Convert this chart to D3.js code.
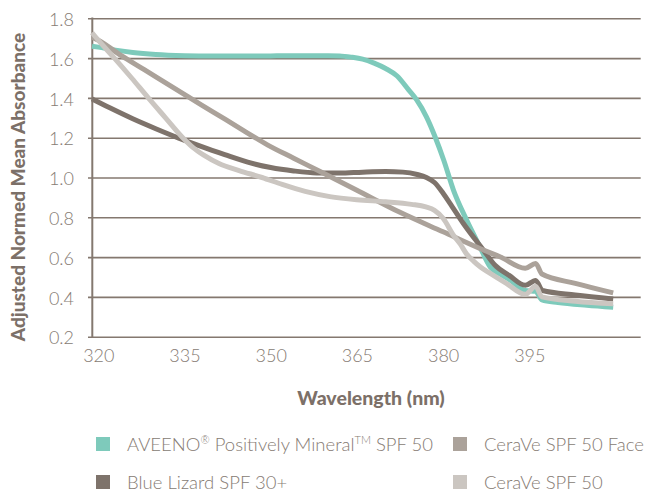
<!DOCTYPE html>
<html>
<head>
<meta charset="utf-8">
<script src="https://cdn.jsdelivr.net/npm/d3@7"></script>
<style>
  html, body { margin: 0; padding: 0; background: #ffffff; }
  svg { display: block; }
</style>
</head>
<body>
<svg id="chart" width="652" height="496"></svg>
<script>
// ---------- data ----------
const xTicks = [320, 335, 350, 365, 380, 395];
const yTicks = [0.2, 0.4, 0.6, 0.8, 1.0, 1.2, 1.4, 1.6, 1.8];

const seriesNames = [
  "AVEENO® Positively Mineral™ SPF 50",
  "Blue Lizard SPF 30+",
  "CeraVe SPF 50 Face",
  "CeraVe SPF 50"
];
const seriesColors = ["#7ecabb", "#7e736b", "#aba29a", "#cbc6c1"];

const aveenoWl = [318.9, 320, 323, 326, 330, 335, 340, 345, 350, 355, 360, 362, 364, 366, 368, 370, 372, 374, 375.4, 377.1, 378.6, 380.1, 381.8, 384.1, 386.4, 388.2, 389.9, 391.6, 394.3, 396.1, 397.2, 400, 405, 409.6];
const aveenoVal = [1.66, 1.655, 1.64, 1.628, 1.618, 1.612, 1.61, 1.61, 1.611, 1.612, 1.612, 1.611, 1.605, 1.595, 1.575, 1.548, 1.51, 1.44, 1.39, 1.305, 1.205, 1.088, 0.937, 0.786, 0.652, 0.55, 0.515, 0.486, 0.432, 0.428, 0.385, 0.372, 0.358, 0.348];

const lizardWl = [318.9, 322, 326, 330, 334, 338, 342, 346, 350, 354, 358, 362, 366, 370, 373, 375.5, 377.1, 378.5, 380, 381.2, 383.5, 387, 389, 391.5, 394.3, 396.1, 397.3, 403, 409.6];
const lizardVal = [1.395, 1.35, 1.295, 1.245, 1.198, 1.155, 1.115, 1.077, 1.05, 1.033, 1.023, 1.022, 1.027, 1.03, 1.027, 1.015, 1.0, 0.975, 0.921, 0.87, 0.77, 0.636, 0.56, 0.508, 0.458, 0.483, 0.432, 0.41, 0.39];

const faceWl = [318.9, 320, 324, 328, 332, 335.6, 340, 345, 349.5, 354, 358.6, 365, 372.5, 380, 387, 389.9, 394.3, 396.1, 397.2, 403, 409.6];
const faceVal = [1.705, 1.69, 1.612, 1.542, 1.47, 1.406, 1.329, 1.241, 1.163, 1.097, 1.03, 0.936, 0.825, 0.727, 0.636, 0.602, 0.544, 0.568, 0.515, 0.468, 0.42];

const ceraveWl = [318.9, 320, 322.8, 325.8, 328.7, 331.7, 334.7, 336.5, 338.5, 341, 344.5, 348.5, 352, 356, 360.3, 365, 370, 374.5, 377, 378.5, 380, 381.8, 383, 384.1, 385.3, 386.5, 388.2, 391, 394.3, 396.1, 397.2, 403, 409.6];
const ceraveVal = [1.728, 1.69, 1.6, 1.5, 1.4, 1.3, 1.2, 1.15, 1.11, 1.07, 1.035, 1.0, 0.965, 0.93, 0.904, 0.888, 0.878, 0.865, 0.852, 0.835, 0.795, 0.71, 0.665, 0.615, 0.58, 0.55, 0.518, 0.468, 0.413, 0.453, 0.40, 0.378, 0.365];

// ---------- layout ----------
const svg = d3.select("#chart");
const axisX = 92.3, rightX = 640.7, topY = 18.3, botY = 336.7;
const inkColor = "#84786f";
const textColor = "#867b73";
const fontFam = "Lato, 'Open Sans', sans-serif";

const x = d3.scaleLinear().domain([320, 395]).range([98.3, 529.3]);
const y = d3.scaleLinear().domain([0.2, 1.8]).range([botY, topY]);

// gridlines + y labels
const yAxis = d3.axisLeft(y).tickValues(yTicks)
  .tickSize(-(rightX - 88)).tickPadding(14)
  .tickFormat(d3.format(".1f"));
const gy = svg.append("g").attr("transform", "translate(88,0)").call(yAxis);
gy.select(".domain").remove();
gy.selectAll(".tick line").attr("stroke", inkColor).attr("stroke-width", 1.6);
gy.selectAll(".tick text")
  .attr("fill", textColor).attr("font-family", fontFam)
  .attr("font-weight", 300).attr("font-size", 18).attr("dy", "0.4em");

// vertical axis line
svg.append("line")
  .attr("x1", axisX).attr("x2", axisX).attr("y1", topY - 0.8).attr("y2", botY + 0.8)
  .attr("stroke", inkColor).attr("stroke-width", 2);

// x labels
const xAxis = d3.axisBottom(x).tickValues(xTicks).tickSize(0).tickPadding(13);
const gx = svg.append("g").attr("transform", `translate(0,${botY})`).call(xAxis);
gx.select(".domain").remove();
gx.selectAll(".tick text")
  .attr("fill", textColor).attr("font-family", fontFam)
  .attr("font-weight", 300).attr("font-size", 18);

// lines
const seriesData = [
  aveenoWl.map((w, i) => [w, aveenoVal[i]]),
  lizardWl.map((w, i) => [w, lizardVal[i]]),
  faceWl.map((w, i) => [w, faceVal[i]]),
  ceraveWl.map((w, i) => [w, ceraveVal[i]])
];
const line = d3.line().x(d => x(d[0])).y(d => y(d[1])).curve(d3.curveMonotoneX);
svg.append("g").selectAll("path").data(seriesData).join("path")
  .attr("d", line)
  .attr("fill", "none")
  .attr("stroke", (d, i) => seriesColors[i])
  .attr("stroke-width", 5)
  .attr("stroke-linejoin", "round")
  .attr("stroke-linecap", "butt");

// axis titles
svg.append("text")
  .attr("x", 371).attr("y", 405)
  .attr("text-anchor", "middle")
  .attr("font-family", fontFam).attr("font-weight", 900).attr("font-size", 19.5)
  .attr("fill", "#7c7068")
  .text("Wavelength (nm)");

svg.append("text")
  .attr("transform", "translate(25,187) rotate(-90)")
  .attr("text-anchor", "middle")
  .attr("font-family", fontFam).attr("font-weight", 900).attr("font-size", 19)
  .attr("fill", "#7c7068")
  .text("Adjusted Normed Mean Absorbance");

// legend
const legendPos = [[96, 444], [96, 482], [453, 444], [453, 482]];
const lg = svg.append("g");
seriesNames.forEach((name, i) => {
  const [lx, ly] = legendPos[i];
  lg.append("rect").attr("x", lx).attr("y", ly - 7).attr("width", 14).attr("height", 14)
    .attr("fill", seriesColors[i]);
  const t = lg.append("text").attr("x", lx + 31).attr("y", ly + 6.5)
    .attr("font-family", fontFam).attr("font-weight", 300).attr("font-size", 18.5)
    .attr("fill", textColor);
  if (i === 0) {
    t.append("tspan").text("AVEENO");
    t.append("tspan").attr("font-size", 11).attr("dy", -7).text("®");
    t.append("tspan").attr("dy", 7).text(" Positively Mineral");
    t.append("tspan").attr("font-size", 11).attr("dy", -7).text("TM");
    t.append("tspan").attr("dy", 7).text(" SPF 50");
  } else {
    t.text(name);
  }
});
</script>
</body>
</html>
